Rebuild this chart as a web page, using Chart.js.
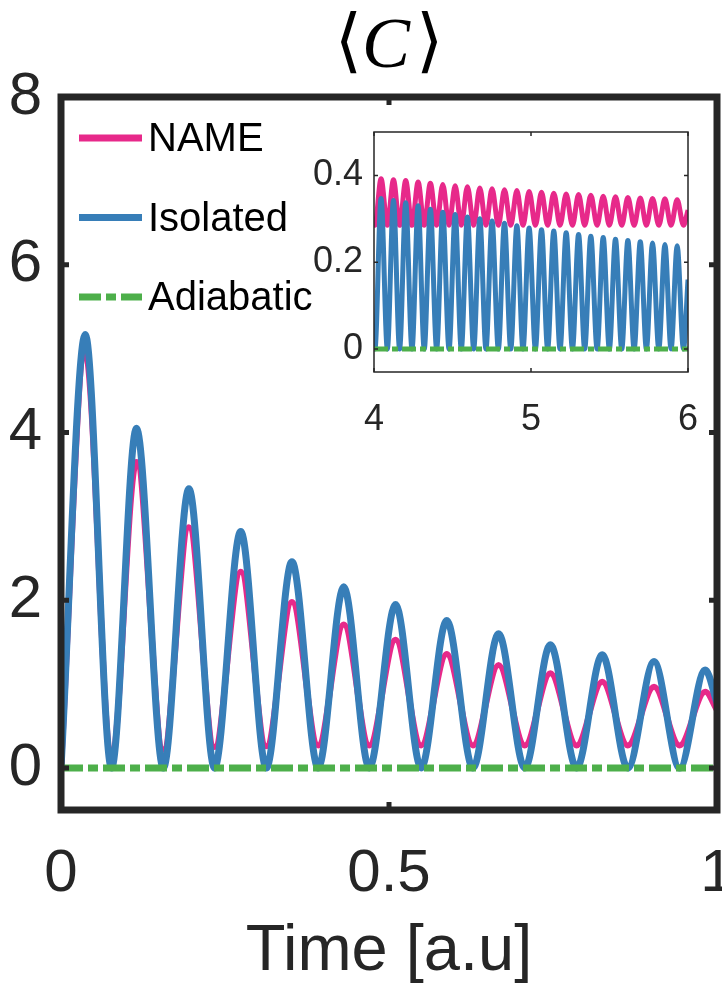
<!DOCTYPE html>
<html>
<head>
<meta charset="utf-8">
<script src="https://cdn.jsdelivr.net/npm/chart.js@4.4.1/dist/chart.umd.min.js"></script>
<style>
  body { margin: 0; background: #fff; }
  #wrap { position: relative; width: 722px; height: 991px; overflow: hidden; }
  #mainChart { position: absolute; left: 0; top: 0; }
  #insetChart { position: absolute; left: 290px; top: 120px; }
</style>
</head>
<body>
<div id="wrap">
  <canvas id="mainChart" width="722" height="991"></canvas>
  <canvas id="insetChart" width="430" height="320"></canvas>
</div>
<script>
// === DONNEES : graphe principal ===
const mainTime = [0, 0.037, 0.077, 0.115, 0.156, 0.195, 0.234, 0.274, 0.313, 0.352, 0.392, 0.431,
  0.470, 0.510, 0.549, 0.588, 0.628, 0.667, 0.707, 0.746, 0.786, 0.825, 0.864, 0.904, 0.943, 0.982, 1.0];
const nameMain = [0, 4.95, 0.08, 3.65, 0.22, 2.87, 0.25, 2.34, 0.26, 1.98, 0.27, 1.71,
  0.27, 1.53, 0.27, 1.36, 0.27, 1.23, 0.27, 1.13, 0.27, 1.03, 0.27, 0.97, 0.27, 0.91, 0.69];
const isolatedMain = [0, 5.17, 0, 4.05, 0, 3.33, 0, 2.82, 0, 2.46, 0, 2.16,
  0, 1.95, 0, 1.76, 0, 1.60, 0, 1.47, 0, 1.35, 0, 1.27, 0, 1.17, 0.78];
const adiabaticTime = [0, 1];
const adiabaticMain = [0, 0];

const xTicks = [0, 0.5, 1];
const xTickLabels = ['0', '0.5', '1'];
const yTicks = [0, 2, 4, 6, 8];

// === DONNEES : encart (t de 4 a 6) ===
const insetTime = [4.0, 4.006, 4.045, 4.085, 4.124, 4.163, 4.202, 4.242, 4.281, 4.320, 4.359, 4.399,
  4.438, 4.478, 4.517, 4.556, 4.595, 4.635, 4.674, 4.713, 4.752, 4.792, 4.831, 4.871, 4.910, 4.949,
  4.988, 5.028, 5.067, 5.106, 5.145, 5.185, 5.224, 5.264, 5.303, 5.342, 5.381, 5.421, 5.460, 5.499,
  5.538, 5.578, 5.617, 5.657, 5.696, 5.735, 5.774, 5.814, 5.853, 5.892, 5.931, 5.971, 6.0];
const nameInset = [0.30, 0.285, 0.392, 0.285, 0.390, 0.285, 0.388, 0.285, 0.385, 0.285, 0.382, 0.285,
  0.379, 0.285, 0.376, 0.285, 0.374, 0.285, 0.371, 0.285, 0.369, 0.285, 0.367, 0.285, 0.365, 0.285,
  0.363, 0.285, 0.361, 0.285, 0.359, 0.285, 0.357, 0.285, 0.356, 0.285, 0.354, 0.285, 0.352, 0.285,
  0.351, 0.285, 0.349, 0.285, 0.348, 0.285, 0.347, 0.285, 0.346, 0.285, 0.344, 0.285, 0.32];
const isolatedInset = [0.05, 0, 0.347, 0, 0.342, 0, 0.337, 0, 0.330, 0, 0.322, 0,
  0.315, 0, 0.310, 0, 0.304, 0, 0.300, 0, 0.295, 0, 0.290, 0, 0.284, 0,
  0.279, 0, 0.275, 0, 0.272, 0, 0.268, 0, 0.264, 0, 0.260, 0, 0.257, 0,
  0.253, 0, 0.250, 0, 0.247, 0, 0.244, 0, 0.241, 0, 0.238, 0, 0.16];
const adiabaticInsetTime = [4, 6];
const adiabaticInset = [0, 0];

const insetXTicks = [4, 5, 6];
const insetYTicks = [0, 0.2, 0.4];

const PINK = '#E7298A';
const BLUE = '#377EB8';
const GREEN = '#4DAF4A';
const AXIS = '#262626';
const FONT = "'Liberation Sans', Arial, sans-serif";

Chart.defaults.font.family = FONT;
Chart.defaults.color = AXIS;

const toPoints = (xs, ys) => xs.map((x, i) => ({ x: x, y: ys[i] }));

// taille d'axe fixe, sans marge ajoutee pour les etiquettes
function fixSize(prop, size) {
  return s => {
    s[prop] = size;
    s.paddingLeft = 0; s.paddingRight = 0;
    s.paddingTop = 0; s.paddingBottom = 0;
  };
}

// cadre + graduations vers l'interieur (style MATLAB)
function framePlugin(lineW, tickLen, tickW) {
  return {
    id: 'frame',
    afterDatasetsDraw(chart) {
      const { ctx, chartArea: a, scales } = chart;
      ctx.save();
      ctx.strokeStyle = AXIS;
      ctx.lineWidth = tickW;
      scales.x.ticks.forEach(t => {
        const px = scales.x.getPixelForValue(t.value);
        ctx.beginPath();
        ctx.moveTo(px, a.bottom); ctx.lineTo(px, a.bottom - tickLen);
        ctx.moveTo(px, a.top); ctx.lineTo(px, a.top + tickLen);
        ctx.stroke();
      });
      scales.y.ticks.forEach(t => {
        const py = scales.y.getPixelForValue(t.value);
        ctx.beginPath();
        ctx.moveTo(a.left, py); ctx.lineTo(a.left + tickLen, py);
        ctx.moveTo(a.right, py); ctx.lineTo(a.right - tickLen, py);
        ctx.stroke();
      });
      ctx.lineWidth = lineW;
      ctx.strokeRect(a.left, a.top, a.right - a.left, a.bottom - a.top);
      ctx.restore();
    }
  };
}

// legende dans la zone du graphe
const legendPlugin = {
  id: 'insideLegend',
  afterDraw(chart) {
    const ctx = chart.ctx;
    ctx.save();
    ctx.font = '40px ' + FONT;
    ctx.textBaseline = 'middle';
    ctx.fillStyle = '#000';
    chart.data.datasets.forEach((ds, i) => {
      const y = 138 + i * 79.5;
      ctx.strokeStyle = ds.borderColor;
      ctx.lineWidth = 7;
      ctx.setLineDash(ds.borderDash || []);
      ctx.beginPath();
      ctx.moveTo(79, y);
      ctx.lineTo(142, y);
      ctx.stroke();
      ctx.setLineDash([]);
      ctx.fillText(ds.label, 148, y + 2);
    });
    ctx.restore();
  }
};

// titre <C> : crochets droits, C en italique
const titlePlugin = {
  id: 'latexTitle',
  afterDraw(chart) {
    const ctx = chart.ctx;
    const cx = (chart.chartArea.left + chart.chartArea.right) / 2;
    const y = 46;
    ctx.save();
    ctx.fillStyle = '#000';
    ctx.textBaseline = 'middle';
    const fb = "70px 'DejaVu Serif', 'Liberation Serif', serif";
    const fc = "italic 72px 'Liberation Serif', 'DejaVu Serif', serif";
    ctx.font = fb;
    const wl = ctx.measureText('⟨').width;
    const wr = ctx.measureText('⟩').width;
    ctx.font = fc;
    const wc = ctx.measureText('C').width;
    let x = cx - (wl + wc + wr + 6) / 2;
    ctx.font = fb;
    ctx.textAlign = 'left';
    ctx.fillText('⟨', x, y);
    x += wl;
    ctx.font = fc;
    ctx.fillText('C', x, y + 2);
    x += wc + 6;
    ctx.font = fb;
    ctx.fillText('⟩', x, y);
    ctx.restore();
  }
};

function lineSet(label, pts, color, width, order, dash) {
  return {
    label: label,
    data: pts,
    borderColor: color,
    backgroundColor: color,
    borderWidth: width,
    borderDash: dash || [],
    pointRadius: 0,
    cubicInterpolationMode: 'monotone',
    fill: false,
    order: order
  };
}

// === GRAPHE PRINCIPAL ===
new Chart(document.getElementById('mainChart'), {
  type: 'line',
  data: {
    datasets: [
      lineSet('NAME', toPoints(mainTime, nameMain), PINK, 6, 2),
      lineSet('Isolated', toPoints(mainTime, isolatedMain), BLUE, 7, 1),
      lineSet('Adiabatic', toPoints(adiabaticTime, adiabaticMain), GREEN, 7, 0, [22, 5, 10, 5])
    ]
  },
  options: {
    responsive: false,
    animation: false,
    layout: { autoPadding: false, padding: { top: 97, right: 5, left: 0, bottom: 0 } },
    plugins: { legend: { display: false }, tooltip: { enabled: false } },
    scales: {
      x: {
        type: 'linear', min: 0, max: 1,
        afterBuildTicks: s => { s.ticks = xTicks.map(v => ({ value: v })); },
        afterFit: fixSize('height', 181),
        grid: { display: false }, border: { display: false },
        ticks: {
          font: { size: 60 }, color: AXIS, padding: 20, maxRotation: 0,
          callback: (v) => xTickLabels[xTicks.indexOf(v)]
        },
        title: { display: true, text: 'Time [a.u]', font: { size: 65 }, color: AXIS, padding: { top: 0, bottom: 0 } }
      },
      y: {
        type: 'linear', min: -0.5, max: 8,
        afterBuildTicks: s => { s.ticks = yTicks.map(v => ({ value: v })); },
        afterFit: fixSize('width', 61),
        grid: { display: false }, border: { display: false },
        ticks: { font: { size: 60 }, color: AXIS, padding: 11 }
      }
    }
  },
  plugins: [framePlugin(7, 8, 5), legendPlugin, titlePlugin]
});

// === ENCART ===
new Chart(document.getElementById('insetChart'), {
  type: 'line',
  data: {
    datasets: [
      lineSet('NAME', toPoints(insetTime, nameInset), PINK, 5, 2),
      lineSet('Isolated', toPoints(insetTime, isolatedInset), BLUE, 5, 1),
      lineSet('Adiabatic', toPoints(adiabaticInsetTime, adiabaticInset), GREEN, 5, 0, [14, 4, 6, 4])
    ]
  },
  options: {
    responsive: false,
    animation: false,
    layout: { autoPadding: false, padding: { top: 12, right: 32, left: 0, bottom: 0 } },
    plugins: { legend: { display: false }, tooltip: { enabled: false } },
    scales: {
      x: {
        type: 'linear', min: 4, max: 6,
        afterBuildTicks: s => { s.ticks = insetXTicks.map(v => ({ value: v })); },
        afterFit: fixSize('height', 68),
        grid: { display: false }, border: { display: false },
        ticks: { font: { size: 36 }, color: AXIS, padding: 18, maxRotation: 0 }
      },
      y: {
        type: 'linear', min: -0.053, max: 0.5,
        afterBuildTicks: s => { s.ticks = insetYTicks.map(v => ({ value: v })); },
        afterFit: fixSize('width', 84),
        grid: { display: false }, border: { display: false },
        ticks: { font: { size: 36 }, color: AXIS, padding: 3 }
      }
    }
  },
  plugins: [framePlugin(1.5, 4, 1.5)]
});
</script>
</body>
</html>
